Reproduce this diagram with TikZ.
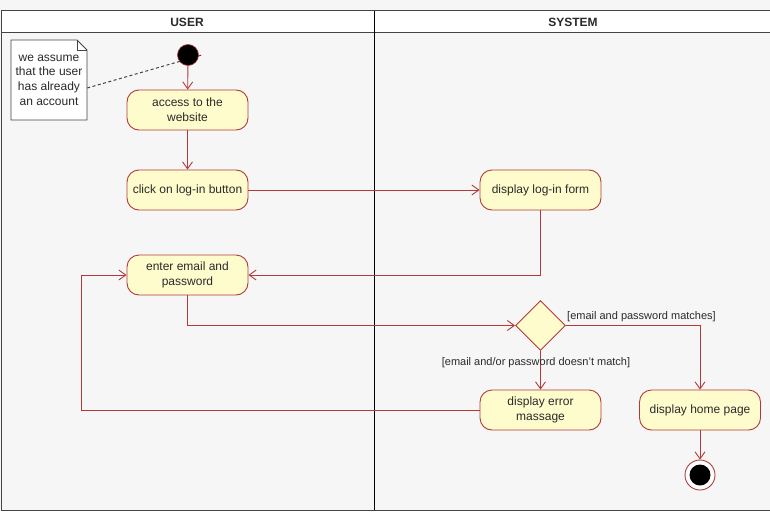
\documentclass[tikz,border=0pt]{standalone}
\usepackage{fontspec}
\setmainfont{Liberation Sans}
\usetikzlibrary{arrows.meta,shapes.geometric}
\definecolor{umlred}{HTML}{B23A3A}
\definecolor{umlfill}{HTML}{FEFCCC}
\definecolor{bggray}{HTML}{F6F6F6}
\definecolor{framegray}{HTML}{444444}
\definecolor{txt}{HTML}{2A2A2A}
\begin{document}
\begin{tikzpicture}[x=1pt,y=-1pt,
  act/.style={draw=umlred, fill=umlfill, line width=0.9pt, rounded corners=12pt,
    minimum width=121pt, minimum height=40pt, align=center, text=txt,
    font=\fontsize{12}{14.7}\selectfont, inner sep=2pt},
  flow/.style={draw=umlred, line width=0.9pt,
    -{Straight Barb[length=7pt,width=10pt,line width=0.9pt]}},
  guard/.style={font=\fontsize{11}{13}\selectfont, inner sep=1pt, text=txt},
  lane/.style={font=\bfseries\fontsize{12}{14}\selectfont, text=txt},
  notetext/.style={align=center, font=\fontsize{12}{14.7}\selectfont, text=txt,
    minimum width=76pt, minimum height=80pt, inner sep=0pt},
  decision/.style={diamond, draw=umlred, fill=umlfill, line width=0.9pt,
    minimum width=50pt, minimum height=50pt, inner sep=0pt},
  startnode/.style={circle, fill=black, draw=umlred, line width=0.6pt,
    minimum size=21pt, inner sep=0pt},
  endnode/.style={circle, fill=white, draw=umlred, line width=0.9pt,
    minimum size=30pt, inner sep=0pt}
]
\useasboundingbox (0,0) rectangle (770,511);
\fill[bggray] (0,0) rectangle (770,511);
% swimlane frame
\fill[white] (1,11) rectangle (775,33);
\draw[framegray, line width=1pt] (775,11) -- (1,11) -- (1,510) -- (775,510);
\draw[framegray, line width=1pt] (1,33) -- (775,33);
\draw[black, line width=1pt] (374.5,11) -- (374.5,510);
\node[lane] (laneuser) at (187,22) {USER};
\node[lane] (lanesys) at (573,22) {SYSTEM};

% note
\draw[framegray, fill=white, line width=0.9pt]
  (11,40) -- (77,40) -- (87,50) -- (87,120) -- (11,120) -- cycle;
\draw[framegray, line width=0.9pt] (77,40) -- (77,50) -- (87,50);
\node[notetext] (note) at (49,80) {we assume\\that the user\\has already\\an account};

% note connector (drawn before the start node, so it passes behind it)
\coordinate (notetarget) at (202,55);
\draw[framegray, line width=1pt, dash pattern=on 3pt off 2.5pt]
  ([yshift=-8pt]note.east) -- (notetarget);

% nodes
\node[startnode] (start) at (188,55) {};
\node[act] (access) at (187.5,110) {access to the\\website};
\node[act] (click) at (187.5,190) {click on log-in button};
\node[act] (form) at (540.5,190) {display log-in form};
\node[act] (enter) at (187.5,275) {enter email and\\password};
\node[decision] (dec) at (540.5,325.5) {};
\node[act] (err) at (540.5,410) {display error\\massage};
\node[act] (home) at (700,410) {display home page};
\node[endnode] (end) at (700,475) {};
\fill[black] (end.center) circle (10.5);

% connectors
\coordinate (loop) at (81,410);
\draw[flow] (start) -- (access);
\draw[flow] (access) -- (click);
\draw[flow] (click) -- (form);
\draw[flow] (form.south) |- (enter.east);
\draw[flow] (enter.south) |- (dec.west);
\draw[flow] (dec.east) -| (home.north);
\draw[flow] (dec.south) -- (err.north);
\draw[flow] (err.west) -- (loop) |- (enter.west);
\draw[flow] (home) -- (end);

% guards
\node[guard] (g1) at (641.5,316.5) {[email and password matches]};
\node[guard] (g2) at (536,363) {[email and/or password doesn't match]};
\end{tikzpicture}
\end{document}
